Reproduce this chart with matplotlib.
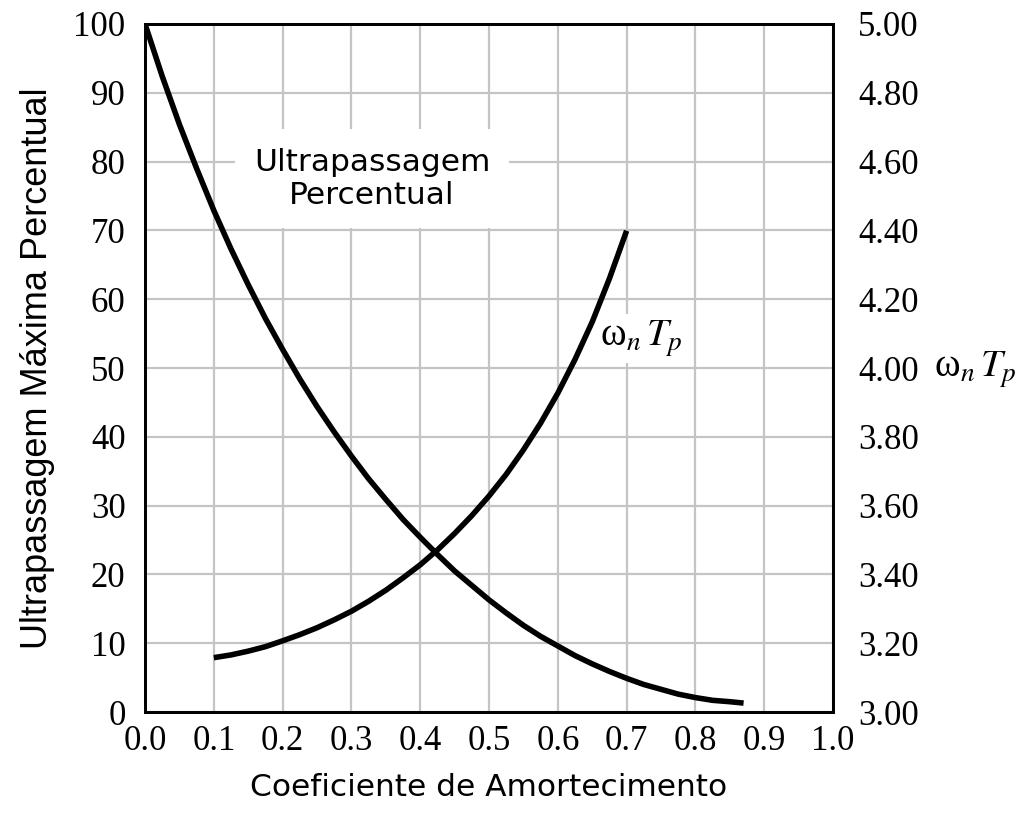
import matplotlib
matplotlib.use('Agg')
import matplotlib.pyplot as plt

# overshoot curve
zeta_os = [0.0, 0.025, 0.05, 0.075, 0.1, 0.125, 0.15, 0.175, 0.2, 0.225, 0.25, 0.275,
           0.3, 0.325, 0.35, 0.375, 0.4, 0.425, 0.45, 0.475, 0.5, 0.525, 0.55, 0.575,
           0.6, 0.625, 0.65, 0.675, 0.7, 0.725, 0.75, 0.775, 0.8, 0.825, 0.85, 0.87]
overshoot = [100, 92.4, 85.4, 79.0, 72.9, 67.3, 62.1, 57.2, 52.7, 48.4, 44.4, 40.7,
             37.2, 33.9, 30.9, 28.0, 25.4, 22.9, 20.5, 18.4, 16.3, 14.4, 12.6, 11.0,
             9.6, 8.2, 7.0, 5.9, 4.9, 4.0, 3.3, 2.6, 2.1, 1.7, 1.5, 1.3]

# wn*Tp curve (right axis)
zeta_tp = [0.1, 0.125, 0.15, 0.175, 0.2, 0.225, 0.25, 0.275, 0.3, 0.325, 0.35, 0.375,
           0.4, 0.425, 0.45, 0.475, 0.5, 0.525, 0.55, 0.575, 0.6, 0.625, 0.65, 0.675, 0.7]
wn_tp = [3.158, 3.166, 3.177, 3.190, 3.207, 3.225, 3.245, 3.268, 3.293, 3.322, 3.354,
         3.390, 3.428, 3.471, 3.519, 3.571, 3.628, 3.691, 3.762, 3.840, 3.927, 4.025,
         4.134, 4.260, 4.399]

x_ticks = [0.0, 0.1, 0.2, 0.3, 0.4, 0.5, 0.6, 0.7, 0.8, 0.9, 1.0]
left_ticks = [0, 10, 20, 30, 40, 50, 60, 70, 80, 90, 100]
right_ticks = [3.00, 3.20, 3.40, 3.60, 3.80, 4.00, 4.20, 4.40, 4.60, 4.80, 5.00]

plt.rcParams['mathtext.fontset'] = 'stix'
serif = 'Liberation Serif'

fig = plt.figure(figsize=(10.17, 8.13), dpi=100)
ax = fig.add_axes([0.1426, 0.1242, 0.6765, 0.8463])
ax2 = ax.twinx()

ax.plot(zeta_os, overshoot, color='black', lw=4, solid_capstyle='butt', zorder=3)
ax2.plot(zeta_tp, wn_tp, color='black', lw=4, solid_capstyle='butt', zorder=3)

ax.set_xlim(0, 1)
ax.set_ylim(0, 100)
ax2.set_ylim(3.0, 5.0)
ax.set_xticks(x_ticks)
ax.set_yticks(left_ticks)
ax2.set_yticks(right_ticks)
ax.set_xticklabels([f'{v:.1f}' for v in x_ticks], fontfamily=serif, fontsize=25)
ax.set_yticklabels([str(v) for v in left_ticks], fontfamily=serif, fontsize=25)
ax2.set_yticklabels([f'{v:.2f}' for v in right_ticks], fontfamily=serif, fontsize=25)
ax.tick_params(axis='x', length=0, pad=9)
ax.tick_params(axis='y', length=0, pad=14)
ax2.tick_params(axis='y', length=0, pad=18)

ax.grid(True, color='#c4c4c4', lw=1.6, zorder=0)
ax.set_axisbelow(True)
for sp in list(ax.spines.values()) + list(ax2.spines.values()):
    sp.set_linewidth(2)
    sp.set_color('black')

ax.set_xlabel('Coeficiente de Amortecimento', fontsize=22.5, labelpad=11)
ax.set_ylabel('Ultrapassagem Máxima Percentual', fontfamily='Liberation Sans', fontsize=26, labelpad=13)

ax.text(0.33, 77.5, 'Ultrapassagem\nPercentual', fontsize=22.5, ha='center', va='center',
        linespacing=1.15, zorder=2,
        bbox=dict(facecolor='white', edgecolor='none', boxstyle='square,pad=0.6'))
ax.text(0.722, 54.3, 'ω$_n\\,T_p$', fontfamily=serif, fontsize=28, ha='center', va='center', zorder=2,
        bbox=dict(facecolor='white', edgecolor='none', boxstyle='square,pad=0.1'))
ax.text(1.207, 0.497, 'ω$_n\\,T_p$', fontfamily=serif, fontsize=28, ha='center', va='center',
        transform=ax.transAxes)

fig.savefig('out.png', dpi=100)
